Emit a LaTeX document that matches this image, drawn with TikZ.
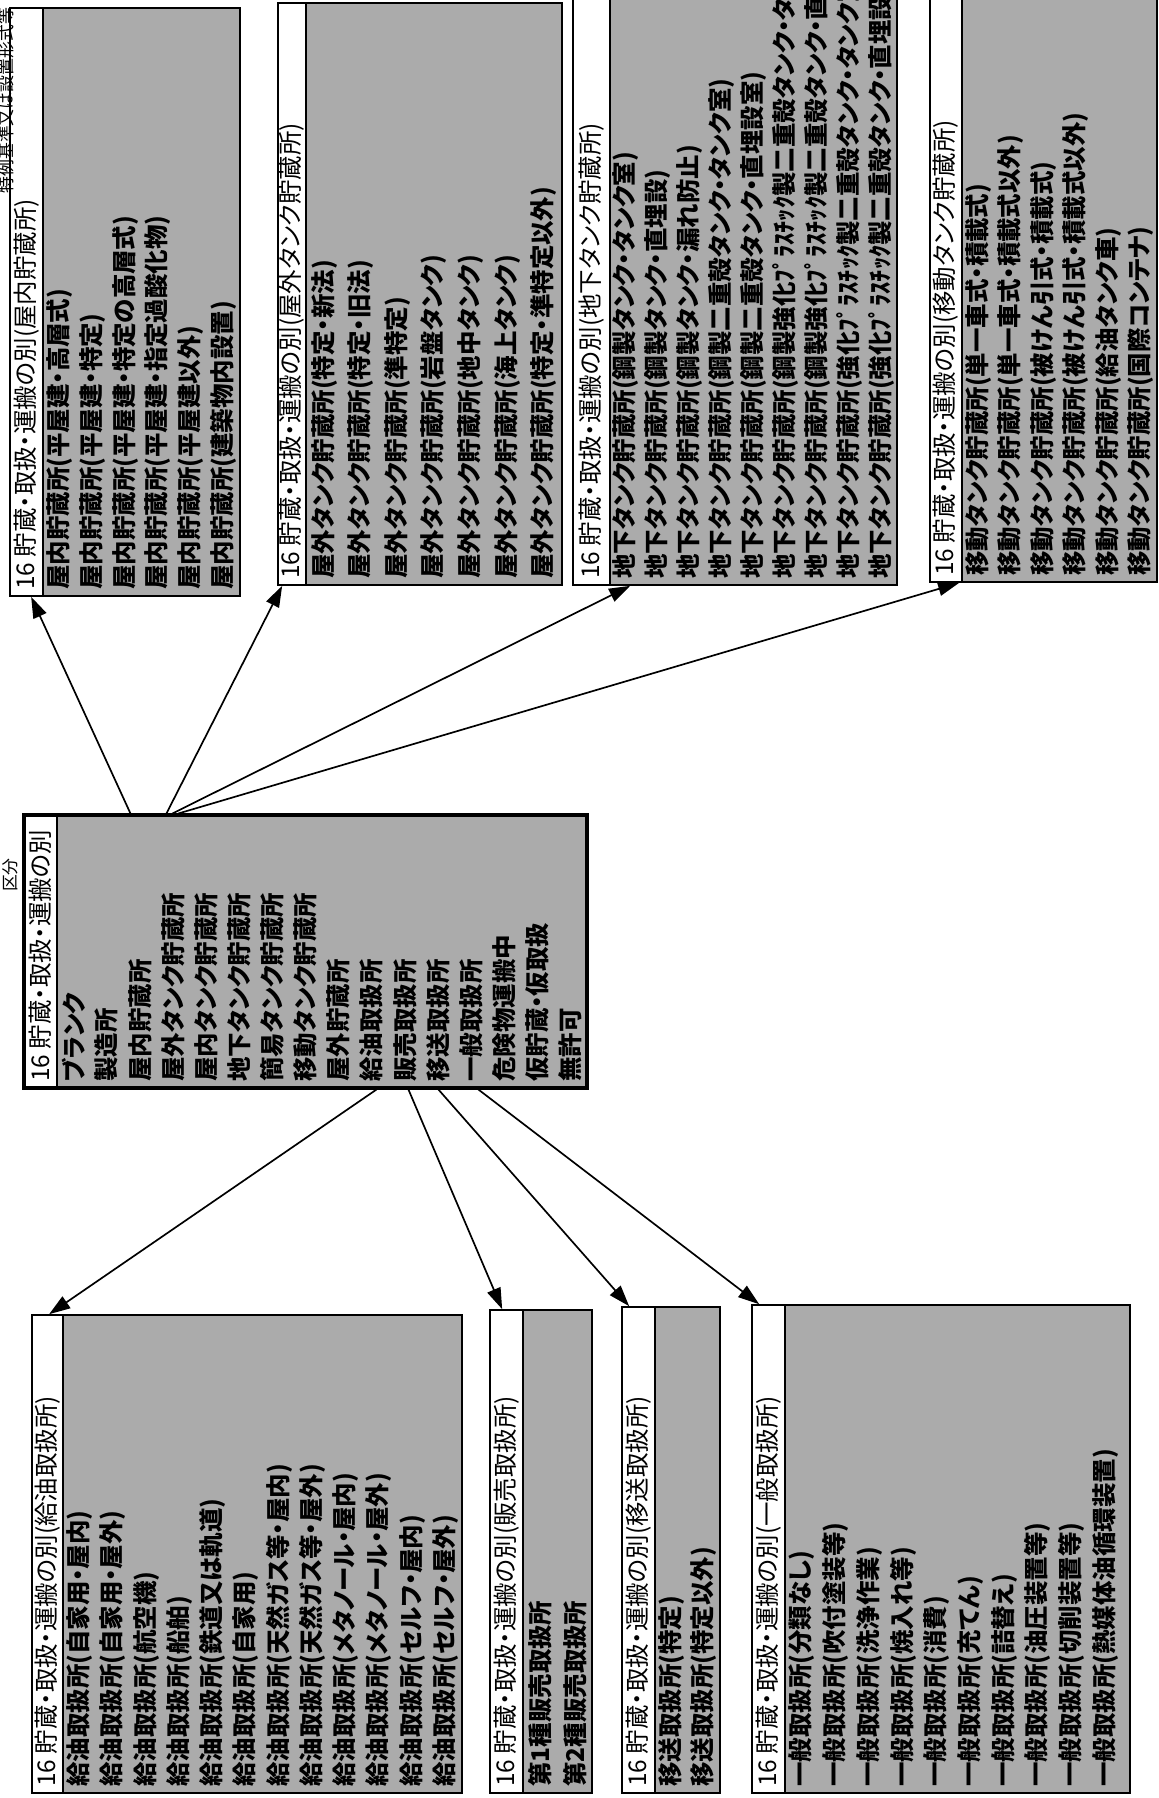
\documentclass[tikz,border=0pt]{standalone}
\usepackage{fontspec}
\setmainfont{Noto Sans CJK JP}[RawFeature={+palt}]
\usetikzlibrary{arrows.meta, calc, fit}

\begin{document}
\begin{tikzpicture}[
  x=0.25mm, y=-0.25mm,
  tbl/.style={draw, line width=1.2pt, inner sep=0pt},
  dots/.style={fill=black!33},
  hdr/.style={rotate=90, anchor=west, inner sep=0pt, font=\fontsize{17.4}{17.4}\selectfont},
  item/.style={hdr, font=\fontsize{17.4}{17.4}\selectfont\bfseries},
  arrow/.style={-{Triangle[length=15pt, width=10pt]}, line width=1.2pt}
]
\useasboundingbox (0,0) rectangle (1159,1798);

\node[rotate=90, anchor=east, font=\fontsize{12}{12}\selectfont] (kijun) at (6,3) {特例基準又は設置形式等};
\node[rotate=90, font=\fontsize{12}{12}\selectfont] (kubun) at (10,875) {区分};

% 区分
\fill[dots] (57,815) rectangle (587,1088);
\node[tbl, line width=2.2pt, fit={(24,815) (587,1088)}] (ctr) {};
\draw[line width=1.2pt] (57,815) -- (57,1088);
\node[hdr] (ctr-h) at (40.5,1082) {16 貯蔵・取扱・運搬の別};
\foreach \t [count=\i] in {ブランク, 製造所, 屋内貯蔵所, 屋外タンク貯蔵所, 屋内タンク貯蔵所, 地下タンク貯蔵所, 簡易タンク貯蔵所, 移動タンク貯蔵所, 屋外貯蔵所, 給油取扱所, 販売取扱所, 移送取扱所, 一般取扱所, 危険物運搬中, 仮貯蔵・仮取扱, 無許可}
  \node[item] (ctr-\i) at ({57+33.125*(\i-0.5)},1082) {\t};

% 屋内貯蔵所
\fill[dots] (43,8) rectangle (240,596);
\node[tbl, fit={(10,8) (240,596)}] (kunai) {};
\draw[line width=1.2pt] (43,8) -- (43,596);
\node[hdr] (kunai-h) at (26.5,590) {16 貯蔵・取扱・運搬の別(屋内貯蔵所)};
\foreach \t [count=\i] in {屋内貯蔵所(平屋建・高層式), 屋内貯蔵所(平屋建・特定), 屋内貯蔵所(平屋建・特定の高層式), 屋内貯蔵所(平屋建・指定過酸化物), 屋内貯蔵所(平屋建以外), 屋内貯蔵所(建築物内設置)}
  \node[item] (kunai-\i) at ({43+32.83*(\i-0.5)},590) {\t};

% 屋外タンク貯蔵所
\fill[dots] (306,3) rectangle (562,585);
\node[tbl, fit={(278,3) (562,585)}] (okugai) {};
\draw[line width=1.2pt] (306,3) -- (306,585);
\node[hdr] (okugai-h) at (292,579) {16 貯蔵・取扱・運搬の別(屋外タンク貯蔵所)};
\foreach \t [count=\i] in {屋外タンク貯蔵所(特定・新法), 屋外タンク貯蔵所(特定・旧法), 屋外タンク貯蔵所(準特定), 屋外タンク貯蔵所(岩盤タンク), 屋外タンク貯蔵所(地中タンク), 屋外タンク貯蔵所(海上タンク), 屋外タンク貯蔵所(特定・準特定以外)}
  \node[item] (okugai-\i) at ({306+36.57*(\i-0.5)},579) {\t};

% 地下タンク貯蔵所
\fill[dots] (610,-5) rectangle (897,585);
\node[tbl, fit={(573,-5) (897,585)}] (chika) {};
\draw[line width=1.2pt] (610,-5) -- (610,585);
\node[hdr] (chika-h) at (591.5,579) {16 貯蔵・取扱・運搬の別(地下タンク貯蔵所)};
\foreach \t [count=\i] in {地下タンク貯蔵所(鋼製タンク・タンク室), 地下タンク貯蔵所(鋼製タンク・直埋設), 地下タンク貯蔵所(鋼製タンク・漏れ防止), 地下タンク貯蔵所(鋼製二重殻タンク・タンク室), 地下タンク貯蔵所(鋼製二重殻タンク・直埋設室), 地下タンク貯蔵所(鋼製強化ﾌﾟﾗｽﾁｯｸ製二重殻タンク・タンク室), 地下タンク貯蔵所(鋼製強化ﾌﾟﾗｽﾁｯｸ製二重殻タンク・直埋設), 地下タンク貯蔵所(強化ﾌﾟﾗｽﾁｯｸ製二重殻タンク・タンク室), 地下タンク貯蔵所(強化ﾌﾟﾗｽﾁｯｸ製二重殻タンク・直埋設)}
  \node[item] (chika-\i) at ({610+31.89*(\i-0.5)},579) {\t};

% 移動タンク貯蔵所
\fill[dots] (962,-3) rectangle (1157,582);
\node[tbl, fit={(930,-3) (1157,582)}] (idou) {};
\draw[line width=1.2pt] (962,-3) -- (962,582);
\node[hdr] (idou-h) at (946,576) {16 貯蔵・取扱・運搬の別(移動タンク貯蔵所)};
\foreach \t [count=\i] in {移動タンク貯蔵所(単一車式・積載式), 移動タンク貯蔵所(単一車式・積載式以外), 移動タンク貯蔵所(被けん引式・積載式), 移動タンク貯蔵所(被けん引式・積載式以外), 移動タンク貯蔵所(給油タンク車), 移動タンク貯蔵所(国際コンテナ)}
  \node[item] (idou-\i) at ({962+32.5*(\i-0.5)},576) {\t};

% 給油取扱所
\fill[dots] (63,1315) rectangle (462,1793);
\node[tbl, fit={(32,1315) (462,1793)}] (kyuyu) {};
\draw[line width=1.2pt] (63,1315) -- (63,1793);
\node[hdr] (kyuyu-h) at (47.5,1787) {16 貯蔵・取扱・運搬の別(給油取扱所)};
\foreach \t [count=\i] in {給油取扱所(自家用・屋内), 給油取扱所(自家用・屋外), 給油取扱所(航空機), 給油取扱所(船舶), 給油取扱所(鉄道又は軌道), 給油取扱所(自家用), 給油取扱所(天然ガス等・屋内), 給油取扱所(天然ガス等・屋外), 給油取扱所(メタノール・屋内), 給油取扱所(メタノール・屋外), 給油取扱所(セルフ・屋内), 給油取扱所(セルフ・屋外)}
  \node[item] (kyuyu-\i) at ({63+33.25*(\i-0.5)},1787) {\t};

% 販売取扱所
\fill[dots] (523,1310) rectangle (592,1793);
\node[tbl, fit={(490,1310) (592,1793)}] (hanbai) {};
\draw[line width=1.2pt] (523,1310) -- (523,1793);
\node[hdr] (hanbai-h) at (506.5,1787) {16 貯蔵・取扱・運搬の別(販売取扱所)};
\foreach \t [count=\i] in {第1種販売取扱所, 第2種販売取扱所}
  \node[item] (hanbai-\i) at ({523+34.5*(\i-0.5)},1787) {\t};

% 移送取扱所
\fill[dots] (655,1307) rectangle (720,1793);
\node[tbl, fit={(622,1307) (720,1793)}] (isou) {};
\draw[line width=1.2pt] (655,1307) -- (655,1793);
\node[hdr] (isou-h) at (638.5,1787) {16 貯蔵・取扱・運搬の別(移送取扱所)};
\foreach \t [count=\i] in {移送取扱所(特定), 移送取扱所(特定以外)}
  \node[item] (isou-\i) at ({655+32.5*(\i-0.5)},1787) {\t};

% 一般取扱所
\fill[dots] (785,1305) rectangle (1130,1793);
\node[tbl, fit={(752,1305) (1130,1793)}] (ippan) {};
\draw[line width=1.2pt] (785,1305) -- (785,1793);
\node[hdr] (ippan-h) at (768.5,1787) {16 貯蔵・取扱・運搬の別(一般取扱所)};
\foreach \t [count=\i] in {一般取扱所(分類なし), 一般取扱所(吹付塗装等), 一般取扱所(洗浄作業), 一般取扱所(焼入れ等), 一般取扱所(消費), 一般取扱所(充てん), 一般取扱所(詰替え), 一般取扱所(油圧装置等), 一般取扱所(切削装置等), 一般取扱所(熱媒体油循環装置)}
  \node[item] (ippan-\i) at ({785+33.7*(\i-0.5)},1787) {\t};

% arrows
\draw[arrow] ($(ctr.north west)+(108,0)$) -- ($(kunai.south west)+(22,0)$);
\draw[arrow] ($(ctr.north west)+(144,0)$) -- ($(okugai.south west)+(5,0)$);
\draw[arrow] ($(ctr.north west)+(150,0)$) -- ($(chika.south west)+(58,0)$);
\draw[arrow] ($(ctr.north west)+(156,0)$) -- ($(idou.south west)+(30,0)$);
\draw[arrow] ($(ctr.south west)+(354,0)$) -- ($(kyuyu.north west)+(18,0)$);
\draw[arrow] ($(ctr.south west)+(386,0)$) -- ($(hanbai.north west)+(13,0)$);
\draw[arrow] ($(ctr.south west)+(416,0)$) -- ($(isou.north west)+(8,0)$);
\draw[arrow] ($(ctr.south west)+(456,0)$) -- ($(ippan.north west)+(8,0)$);
\end{tikzpicture}
\end{document}
